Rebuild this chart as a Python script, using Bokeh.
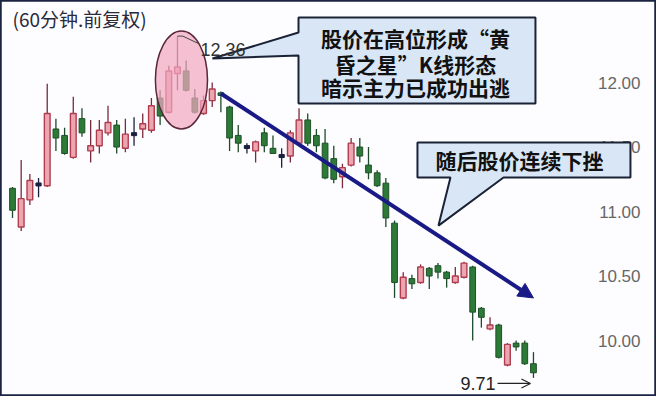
from bokeh.plotting import figure
from bokeh.models import Range1d, Arrow, NormalHead, OpenHead, ColumnDataSource
from bokeh.core.properties import value
from bokeh.embed import file_html
from bokeh.resources import INLINE

# ---- data (60-minute bars, forward adjusted) ----
opens = [11.18, 10.88, 11.09, 11.21, 11.20, 11.64, 11.59, 11.42, 11.72, 11.47,
         11.51, 11.61, 11.67, 11.49, 11.60, 11.64, 11.63, 11.88, 11.77, 12.07,
         12.09, 11.88, 11.76, 11.86, 11.92, 11.81, 11.59, 11.50, 11.47, 11.61,
         11.49, 11.43, 11.43, 11.53, 11.71, 11.59, 11.53, 11.41, 11.27, 11.36,
         11.50, 11.36, 11.30, 11.22, 10.91, 10.33, 10.48, 10.45, 10.56, 10.58,
         10.53, 10.45, 10.49, 10.57, 10.25, 10.09, 10.12, 9.81, 9.98, 9.98, 9.82]
highs = [11.19, 11.40, 11.29, 11.26, 11.99, 11.72, 11.65, 11.89, 11.80, 11.71,
         11.71, 11.82, 11.71, 11.72, 11.73, 11.76, 11.88, 11.94, 12.13, 12.36,
         12.17, 11.95, 11.90, 12.00, 11.93, 11.82, 11.67, 11.53, 11.55, 11.65,
         11.59, 11.49, 11.63, 11.80, 11.76, 11.64, 11.64, 11.51, 11.37, 11.57,
         11.57, 11.50, 11.32, 11.26, 10.93, 10.53, 10.51, 10.59, 10.57, 10.60,
         10.54, 10.57, 10.61, 10.58, 10.26, 10.18, 10.13, 9.98, 10.00, 10.00, 9.91]
lows = [10.95, 10.85, 11.05, 11.11, 11.19, 11.47, 11.44, 11.41, 11.58, 11.38,
        11.45, 11.59, 11.45, 11.46, 11.51, 11.57, 11.61, 11.67, 11.76, 11.94,
        11.93, 11.76, 11.75, 11.81, 11.77, 11.47, 11.46, 11.45, 11.38, 11.46,
        11.45, 11.34, 11.38, 11.52, 11.51, 11.46, 11.25, 11.22, 11.18, 11.35,
        11.38, 11.25, 11.19, 10.88, 10.33, 10.32, 10.40, 10.44, 10.40, 10.48,
        10.41, 10.44, 10.48, 10.00, 10.10, 10.08, 9.86, 9.80, 9.92, 9.81, 9.71]
closes = [11.01, 11.10, 11.24, 11.21, 11.76, 11.57, 11.45, 11.76, 11.61, 11.51,
          11.63, 11.69, 11.50, 11.60, 11.60, 11.68, 11.82, 11.74, 12.09, 12.12,
          11.94, 11.77, 11.86, 11.95, 11.90, 11.57, 11.53, 11.50, 11.54, 11.51,
          11.45, 11.43, 11.61, 11.71, 11.53, 11.51, 11.26, 11.25, 11.34, 11.53,
          11.43, 11.30, 11.20, 10.95, 10.45, 10.49, 10.44, 10.57, 10.50, 10.53,
          10.48, 10.50, 10.60, 10.22, 10.18, 10.12, 9.87, 9.97, 9.95, 9.82, 9.75]

y_ticks = [12.00, 11.50, 11.00, 10.50, 10.00]
y_tick_labels = ["12.00", "11.50", "11.00", "10.50", "10.00"]

title_text = "(60分钟.前复权)"
high_label = "12.36"
low_label = "9.71"
callout1_lines = ["股价在高位形成“黄", "昏之星”K线形态", "暗示主力已成功出逃"]
callout2_text = "随后股价连续下挫"

# trend arrow (bar index, price)
trend_start = (24, 11.915)
trend_end = (60, 10.33)

# ---- figure ----
p = figure(width=656, height=396, x_range=Range1d(-1.382, 74.17),
           y_range=Range1d(9.566, 12.636), x_axis_type=None, y_axis_type=None,
           output_backend="svg", toolbar_location=None, min_border=0)
p.grid.visible = False
p.background_fill_color = "#fdfdff"
p.border_fill_color = "white"
p.outline_line_color = "#1b2440"
p.outline_line_width = 2.5

idx = list(range(len(opens)))

def subset(cond):
    d = dict(x=[], o=[], h=[], l=[], c=[], top=[], bot=[])
    for i in idx:
        if cond(opens[i], closes[i]):
            d["x"].append(i); d["o"].append(opens[i]); d["h"].append(highs[i])
            d["l"].append(lows[i]); d["c"].append(closes[i])
            d["top"].append(max(opens[i], closes[i])); d["bot"].append(min(opens[i], closes[i]))
    return ColumnDataSource(d)

up = subset(lambda o, c: c > o)
down = subset(lambda o, c: c < o)
flat = subset(lambda o, c: c == o)

# y-axis labels (right side, inside frame)
tick_src = ColumnDataSource(dict(y=y_ticks, t=y_tick_labels, x=[72.33] * len(y_ticks)))
p.text(x="x", y="y", text="t", source=tick_src, text_align="right", text_baseline="middle",
       text_font=value("Liberation Sans"), text_font_size="17px", text_color="#666666")

# wicks
p.segment(x0="x", y0="h", x1="x", y1="l", source=up, line_color="#7a2a3a", line_width=1.3)
p.segment(x0="x", y0="h", x1="x", y1="l", source=down, line_color="#1d4a28", line_width=1.3)
p.segment(x0="x", y0="h", x1="x", y1="l", source=flat, line_color="#1c2040", line_width=1.3)
# bodies
p.vbar(x="x", top="top", bottom="bot", width=0.66, source=up,
       fill_color="#eba6b0", line_color="#b03c50", line_width=1.4)
p.vbar(x="x", top="top", bottom="bot", width=0.66, source=down,
       fill_color="#2d7a38", line_color="#1d5026", line_width=1)
p.rect(x="x", y="o", width=0.6, height=3, height_units="screen", source=flat,
       fill_color="#1c2040", line_color="#1c2040")

# evening-star highlight ellipse
p.ellipse(x=19.46, y=12.02, width=6.0, height=0.76, fill_color="#f0a8c0", fill_alpha=0.72,
          line_color="#5c2838", line_width=1.5)

# trend arrow
p.add_layout(Arrow(end=NormalHead(size=15, fill_color="#1a1a86", line_color="#1a1a86"),
                   x_start=trend_start[0], y_start=trend_start[1],
                   x_end=trend_end[0], y_end=trend_end[1],
                   line_color="#1a1a86", line_width=4))

# title
p.text(x=[0.0], y=[12.496], text=[title_text], text_align="left", text_baseline="middle",
       text_font=value("Noto Sans CJK SC"), text_font_size="19px", text_color="#2a2a3a")

# callout 1
L1, R1, T1, B1 = 32.94, 60.23, 12.504, 11.837
p.patch(x=[L1, R1, R1, L1, L1, 23.03, L1], y=[T1, T1, B1, B1, 12.209, 12.186, 12.388],
        fill_color="#d8e6f5", line_color="#1a2236", line_width=2)
p.text(x=[46.41] * 3, y=[12.349, 12.147, 11.969], text=callout1_lines, text_align="center",
       text_baseline="middle", text_font=value("Noto Sans CJK SC"), text_font_style="bold",
       text_font_size="21px", text_color="#111111")

# callout 2
L2, R2, T2, B2 = 46.64, 71.17, 11.535, 11.264
p.patch(x=[L2, R2, R2, 56.55, 49.06, 50.44, L2], y=[T2, T2, B2, B2, 10.891, B2, B2],
        fill_color="#d8e6f5", line_color="#1a2236", line_width=2)
p.text(x=[58.39], y=[11.397], text=[callout2_text], text_align="center", text_baseline="middle",
       text_font=value("Noto Sans CJK SC"), text_font_style="bold", text_font_size="21px",
       text_color="#111111")

# high label with leader (drawn above the callout pointer)
peak = highs.index(max(highs))
p.line(x=[peak, peak + 0.6, peak + 2.5], y=[highs[peak], highs[peak], highs[peak] - 0.06],
       line_color="#444444", line_width=1)
p.text(x=[peak + 2.65], y=[highs[peak] - 0.10], text=[high_label], text_align="left",
       text_baseline="middle", text_font=value("Liberation Sans"), text_font_size="18px",
       text_color="#333333")

# low label with arrow
low_i = lows.index(min(lows))
p.text(x=[low_i - 4.37], y=[lows[low_i] - 0.043], text=[low_label], text_align="right",
       text_baseline="middle", text_font=value("Liberation Sans"), text_font_size="18px",
       text_color="#222222")
p.add_layout(Arrow(end=OpenHead(size=9, line_color="#222222", line_width=1.2),
                   x_start=low_i - 4.14, y_start=lows[low_i] - 0.043,
                   x_end=low_i - 0.35, y_end=lows[low_i] - 0.043,
                   line_color="#222222", line_width=1.2))

open("out.html", "w").write(file_html(p, INLINE))
